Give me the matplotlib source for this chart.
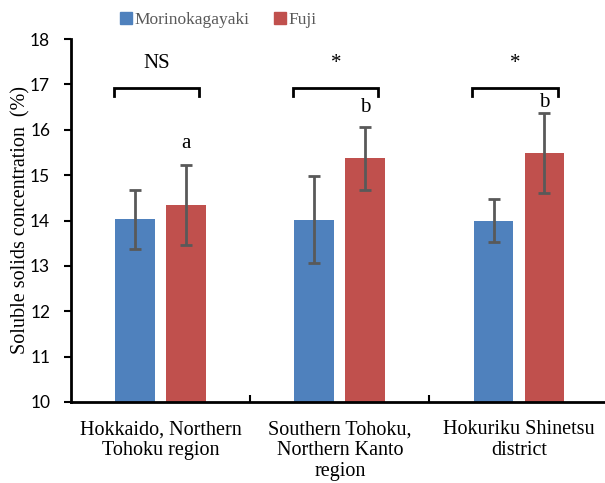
import numpy as np
import matplotlib.pyplot as plt
from matplotlib.lines import Line2D

regions = ['Hokkaido, Northern\nTohoku region',
           'Southern Tohoku,\nNorthern Kanto\nregion',
           'Hokuriku Shinetsu\ndistrict']
morino = [14.03, 14.02, 14.00]
morino_err = [0.65, 0.96, 0.48]
fuji = [14.34, 15.37, 15.49]
fuji_err = [0.88, 0.69, 0.88]
letters = ['a', 'b', 'b']
letter_y = [15.69, 16.48, 16.60]
signif = ['NS', '*', '*']

blue = '#4F81BD'
red = '#C0504D'
grey = '#595959'
serif = 'Liberation Serif'

fig = plt.figure(figsize=(6.05, 4.83), dpi=100)
ax = fig.add_axes([71 / 605, 81 / 483, 1 - 71 / 605, 363 / 483])

x = np.arange(len(regions))
w = 0.222
off = 0.142
ax.bar(x - off, morino, w, color=blue, zorder=2)
ax.bar(x + off, fuji, w, color=red, zorder=2)
ax.errorbar(x - off, morino, yerr=morino_err, fmt='none', ecolor=grey,
            elinewidth=2, capsize=4, capthick=2, zorder=3)
ax.errorbar(x + off, fuji, yerr=fuji_err, fmt='none', ecolor=grey,
            elinewidth=2, capsize=4, capthick=2, zorder=3)

# letters above Fuji bars
for i in range(len(x)):
    ax.text(x[i] + off, letter_y[i], letters[i],
            ha='center', va='center', fontsize=15, family=serif)

# brackets with significance marks
for i in range(len(x)):
    l, r = x[i] - 0.26, x[i] + 0.215
    ax.plot([l, l, r, r], [16.75, 16.92, 16.92, 16.75], color='black',
            lw=2, solid_joinstyle='miter', clip_on=False)
    ax.text((l + r) / 2, 17.45, signif[i], ha='center', va='center',
            fontsize=15, family=serif)

ax.set_ylim(10, 18)
ax.set_xlim(-0.5, 2.48)
ax.set_yticks(np.arange(10, 19, 1))
ax.set_yticklabels([str(v) for v in range(10, 19)], family='Lato', fontsize=12.5)
ax.set_xticks(x)
ax.set_xticklabels(regions, family=serif, fontsize=14.5, linespacing=1.15)
ax.tick_params(axis='x', length=0, pad=13)
ax.set_xticks([0.5, 1.5], minor=True)
ax.tick_params(axis='x', which='minor', direction='in', length=5, width=1.5)
ax.tick_params(axis='y', direction='out', length=5, width=1.5, pad=10)
for s in ['top', 'right']:
    ax.spines[s].set_visible(False)
ax.spines['left'].set_linewidth(2)
ax.spines['bottom'].set_linewidth(2)
ax.set_ylabel('Soluble solids concentration  (%)', family=serif, fontsize=14.5,
              labelpad=0)

handles = [Line2D([], [], marker='s', ls='none', color=blue, markersize=9),
           Line2D([], [], marker='s', ls='none', color=red, markersize=9)]
leg = fig.legend(handles, ['Morinokagayaki', 'Fuji'], loc='center',
                 bbox_to_anchor=(0.36, 0.958), ncol=2, frameon=False,
                 prop={'family': serif, 'size': 12.5}, handletextpad=0.05,
                 columnspacing=1.4, handlelength=0.8)
for t in leg.get_texts():
    t.set_color(grey)

fig.savefig('out.png', dpi=100)
